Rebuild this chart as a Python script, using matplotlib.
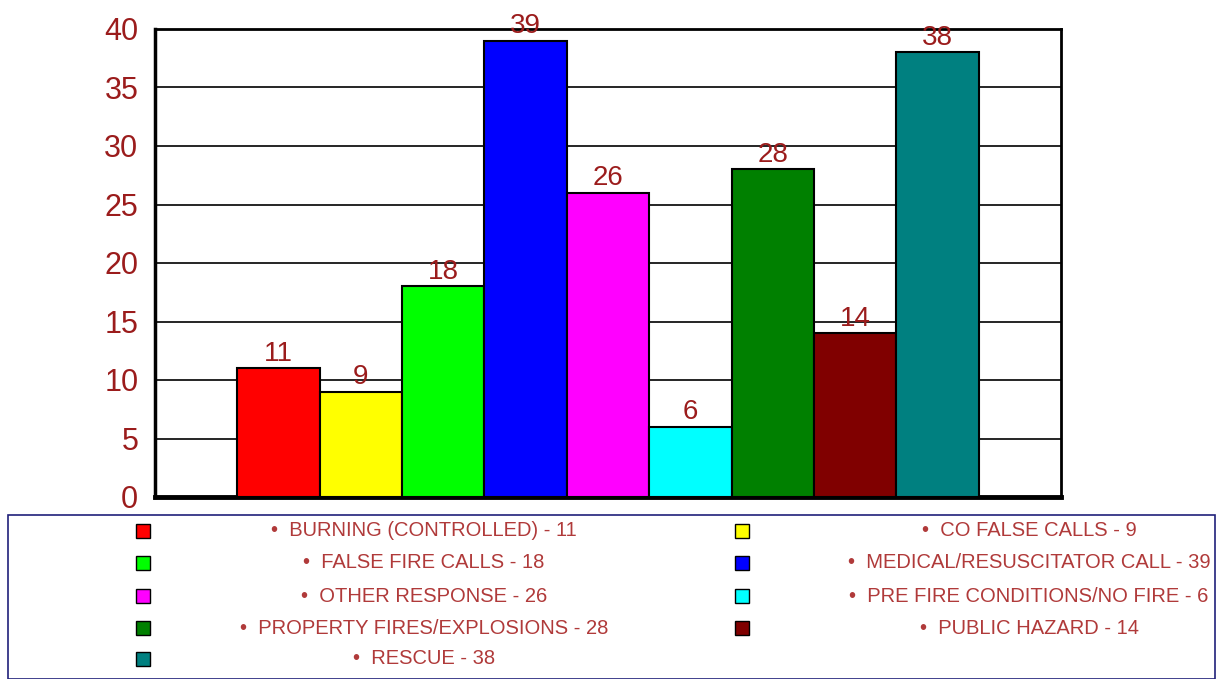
import matplotlib
matplotlib.use("Agg")
import matplotlib.pyplot as plt
from matplotlib.patches import Rectangle

categories = ["BURNING (CONTROLLED)", "CO FALSE CALLS", "FALSE FIRE CALLS",
              "MEDICAL/RESUSCITATOR CALL", "OTHER RESPONSE",
              "PRE FIRE CONDITIONS/NO FIRE", "PROPERTY FIRES/EXPLOSIONS",
              "PUBLIC HAZARD", "RESCUE"]
values = [11, 9, 18, 39, 26, 6, 28, 14, 38]
colors = ["#ff0000", "#ffff00", "#00ff00", "#0000ff", "#ff00ff",
          "#00ffff", "#008000", "#800000", "#008080"]
yticks = [0, 5, 10, 15, 20, 25, 30, 35, 40]

plt.rcParams['font.family'] = ['Liberation Sans', 'DejaVu Sans']
W, H = 1222, 679
fig = plt.figure(figsize=(W / 100, H / 100), dpi=100)
ax = fig.add_axes([155 / W, 1 - 497 / H, (1061 - 155) / W, (497 - 29) / H])

x = list(range(len(values)))
ax.bar(x, values, width=1.0, color=colors, edgecolor="black", linewidth=1.5, zorder=3)
for xi, v in zip(x, values):
    ax.annotate(str(v), (xi, v), xytext=(0, 1), textcoords="offset points",
                ha="center", va="bottom", fontsize=20, color="#9b1c1c", zorder=5,
                annotation_clip=False)

ax.set_xlim(-1.5, len(values) + 0.5)
ax.set_ylim(0, 40)
ax.set_yticks(yticks)
ax.set_yticklabels([str(t) for t in yticks], fontsize=22, color="#9b1c1c")
ax.tick_params(axis="y", length=0, pad=12)
ax.set_xticks([])
ax.yaxis.grid(True, color="black", linewidth=1.2, zorder=0)
ax.set_axisbelow(True)
for side in ["top", "right"]:
    ax.spines[side].set_linewidth(2)
ax.spines["left"].set_linewidth(2.5)
ax.spines["bottom"].set_linewidth(3.5)

# legend box
fig.patches.append(Rectangle((8 / W, 0), (1215 - 8) / W, 1 - 515 / H - 0,
                             transform=fig.transFigure, fill=False,
                             edgecolor="#20207a", linewidth=1.2))
row_y = [531, 563, 596, 628, 659]
col_sq = [143, 742]
col_tx = [424, 1029]
for i, (c, v, col) in enumerate(zip(categories, values, colors)):
    r, k = divmod(i, 2)
    yy = 1 - row_y[r] / H
    s = 14
    fig.patches.append(Rectangle(((col_sq[k] - s / 2) / W, yy - s / 2 / H), s / W, s / H,
                                 transform=fig.transFigure, facecolor=col,
                                 edgecolor="black", linewidth=1))
    fig.text(col_tx[k] / W, yy, f"\u2022  {c} - {v}", ha="center", va="center",
             fontsize=14.5, color="#b03a3a")

fig.savefig("out.png", dpi=100)
